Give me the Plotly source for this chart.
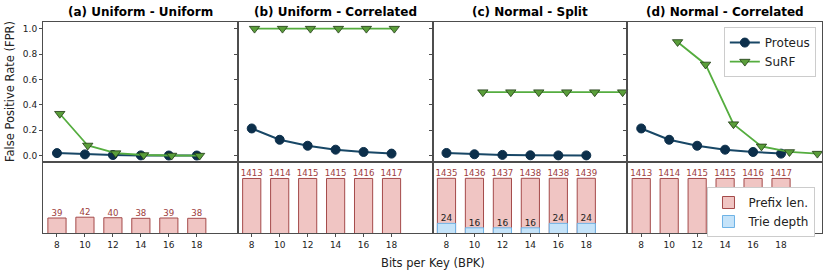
import plotly.graph_objects as go
from plotly.subplots import make_subplots

titles = ["(a) Uniform - Uniform", "(b) Uniform - Correlated", "(c) Normal - Split", "(d) Normal - Correlated"]
bpk = [8, 10, 12, 14, 16, 18]
surf_bpk = [
    [8.2, 10.2, 12.2, 14.2, 16.2, 18.2],
    [8.2, 10.2, 12.2, 14.2, 16.2, 18.2],
    [10.6, 12.6, 14.6, 16.6, 18.6, 20.6],
    [10.6, 12.6, 14.6, 16.6, 18.6, 20.6],
]
proteus_fpr = [
    [0.02, 0.01, 0.005, 0.002, 0.001, 0.001],
    [0.214, 0.125, 0.078, 0.047, 0.029, 0.016],
    [0.021, 0.011, 0.006, 0.003, 0.002, 0.002],
    [0.214, 0.125, 0.078, 0.047, 0.029, 0.016],
]
surf_fpr = [
    [0.33, 0.08, 0.02, 0.005, 0.001, 0.0005],
    [1.0, 1.0, 1.0, 1.0, 1.0, 1.0],
    [0.5, 0.5, 0.5, 0.5, 0.5, 0.5],
    [0.895, 0.718, 0.248, 0.073, 0.029, 0.016],
]
prefix_len = [
    [39, 42, 40, 38, 39, 38],
    [1413, 1414, 1415, 1415, 1416, 1417],
    [1435, 1436, 1437, 1438, 1438, 1439],
    [1413, 1414, 1415, 1415, 1416, 1417],
]
trie_depth = [None, None, [24, 16, 16, 16, 24, 24], None]

PROTEUS = "#0c2f4b"
PROTEUS_LINE = "#184766"
SURF_LINE = "#55ad3f"
SURF_FILL = "#5a9e3a"
PREFIX_FILL = "#f0c5c3"
PREFIX_EDGE = "#a44a4a"
TRIE_FILL = "#c5e3f9"
TRIE_EDGE = "#6eb3e6"
FONT = "DejaVu Sans"

fig = make_subplots(rows=2, cols=4, horizontal_spacing=0, vertical_spacing=0,
                    row_heights=[140, 71], shared_xaxes=False)

for i in range(4):
    col = i + 1
    fig.add_trace(go.Scatter(
        x=bpk, y=proteus_fpr[i], mode="lines+markers", name="Proteus",
        line=dict(color=PROTEUS_LINE, width=2),
        marker=dict(symbol="circle", size=9, color=PROTEUS, line=dict(color=PROTEUS, width=1)),
        showlegend=(i == 3), legend="legend", cliponaxis=False), row=1, col=col)
    fig.add_trace(go.Scatter(
        x=surf_bpk[i], y=surf_fpr[i], mode="lines+markers", name="SuRF",
        line=dict(color=SURF_LINE, width=1.8),
        marker=dict(symbol="triangle-down", size=9, color=SURF_FILL, line=dict(color="#1f3a14", width=0.8)),
        showlegend=(i == 3), legend="legend", cliponaxis=False), row=1, col=col)
    fig.add_trace(go.Bar(
        x=bpk, y=prefix_len[i], name="Prefix len.", width=1.3,
        marker=dict(color=PREFIX_FILL, line=dict(color=PREFIX_EDGE, width=1)),
        showlegend=(i == 3), legend="legend2"), row=2, col=col)
    fig.add_trace(go.Scatter(
        x=bpk, y=prefix_len[i], mode="text", text=[str(v) for v in prefix_len[i]],
        textposition="top center", textfont=dict(family=FONT, size=8.6, color="#9c3c3c"),
        showlegend=False, cliponaxis=False, hoverinfo="skip"), row=2, col=col)
    if trie_depth[i] is not None:
        fig.add_trace(go.Bar(
            x=bpk, y=trie_depth[i], name="Trie depth", width=1.3,
            marker=dict(color=TRIE_FILL, line=dict(color=TRIE_EDGE, width=1)),
            showlegend=False), row=2, col=col)
        fig.add_trace(go.Scatter(
            x=bpk, y=trie_depth[i], mode="text", text=[str(v) for v in trie_depth[i]],
            textposition="top center", textfont=dict(family=FONT, size=9, color="#222222"),
            showlegend=False, cliponaxis=False, hoverinfo="skip"), row=2, col=col)

# Legend entry for Trie depth (panel d)
fig.add_trace(go.Bar(
    x=[None], y=[None], name="Trie depth",
    marker=dict(color=TRIE_FILL, line=dict(color=TRIE_EDGE, width=1)),
    showlegend=True, legend="legend2"), row=2, col=4)

axis_line = "#4d4d4d"
for i in range(4):
    col = i + 1
    fig.update_xaxes(row=1, col=col, range=[7.0, 20.93], showticklabels=False, ticks="",
                     showgrid=False, zeroline=False, showline=True, linecolor=axis_line,
                     linewidth=1, mirror=True, automargin=False)
    fig.update_xaxes(row=2, col=col, range=[7.0, 20.93], tickvals=bpk,
                     ticktext=[str(v) for v in bpk], ticks="outside", ticklen=3,
                     tickcolor=axis_line, tickfont=dict(family=FONT, size=9, color="#222"),
                     showgrid=False, zeroline=False, showline=True, linecolor=axis_line,
                     linewidth=1, mirror=True, automargin=False)
    fig.update_yaxes(row=1, col=col, range=[-0.05, 1.052], tickvals=[0, 0.2, 0.4, 0.6, 0.8, 1.0],
                     ticktext=["0.0", "0.2", "0.4", "0.6", "0.8", "1.0"],
                     showticklabels=(i == 0), ticks="outside", ticklen=3, tickcolor=axis_line,
                     tickfont=dict(family=FONT, size=9, color="#222"),
                     showgrid=False, zeroline=False, showline=True, linecolor=axis_line,
                     linewidth=1, mirror=True, automargin=False)
    fig.update_yaxes(row=2, col=col, type="log", range=[1, 3.8], showticklabels=False,
                     ticks="", showgrid=False, zeroline=False, showline=True,
                     linecolor=axis_line, linewidth=1, mirror=True, automargin=False)

annotations = []
for i, t in enumerate(titles):
    annotations.append(dict(text="<b>" + t + "</b>", x=0.125 + 0.25 * i, y=1.0,
                            xref="paper", yref="paper", xanchor="center", yanchor="bottom",
                            yshift=1, showarrow=False,
                            font=dict(family=FONT, size=12, color="black")))
annotations.append(dict(text="Bits per Key (BPK)", x=0.5, y=0, xref="paper", yref="paper",
                        xanchor="center", yanchor="top", yshift=-21, showarrow=False,
                        font=dict(family=FONT, size=11.5, color="#222")))
annotations.append(dict(text="False Positive Rate (FPR)", x=0, y=(1 + 71 / 211) / 2,
                        xref="paper", yref="paper", xanchor="center", yanchor="middle",
                        xshift=-33, textangle=-90, showarrow=False,
                        font=dict(family=FONT, size=11.5, color="#222")))

fig.update_layout(
    width=830, height=277,
    margin=dict(l=43, r=8, t=22, b=44, autoexpand=False),
    paper_bgcolor="white", plot_bgcolor="white",
    barmode="overlay",
    font=dict(family=FONT, size=10, color="#222"),
    annotations=annotations,
    legend=dict(x=0.874, y=0.976, xanchor="left", yanchor="top",
                bgcolor="white", bordercolor="#cccccc", borderwidth=1,
                font=dict(family=FONT, size=12, color="#222"), tracegroupgap=0,
                itemwidth=30),
    legend2=dict(x=0.853, y=0.218, xanchor="left", yanchor="top",
                 bgcolor="white", bordercolor="#cccccc", borderwidth=1,
                 font=dict(family=FONT, size=12, color="#222"), tracegroupgap=0,
                 itemwidth=30),
    showlegend=True,
)

fig.write_html("out.html", config={"displayModeBar": False},
               post_script="document.body.style.margin='0';")
